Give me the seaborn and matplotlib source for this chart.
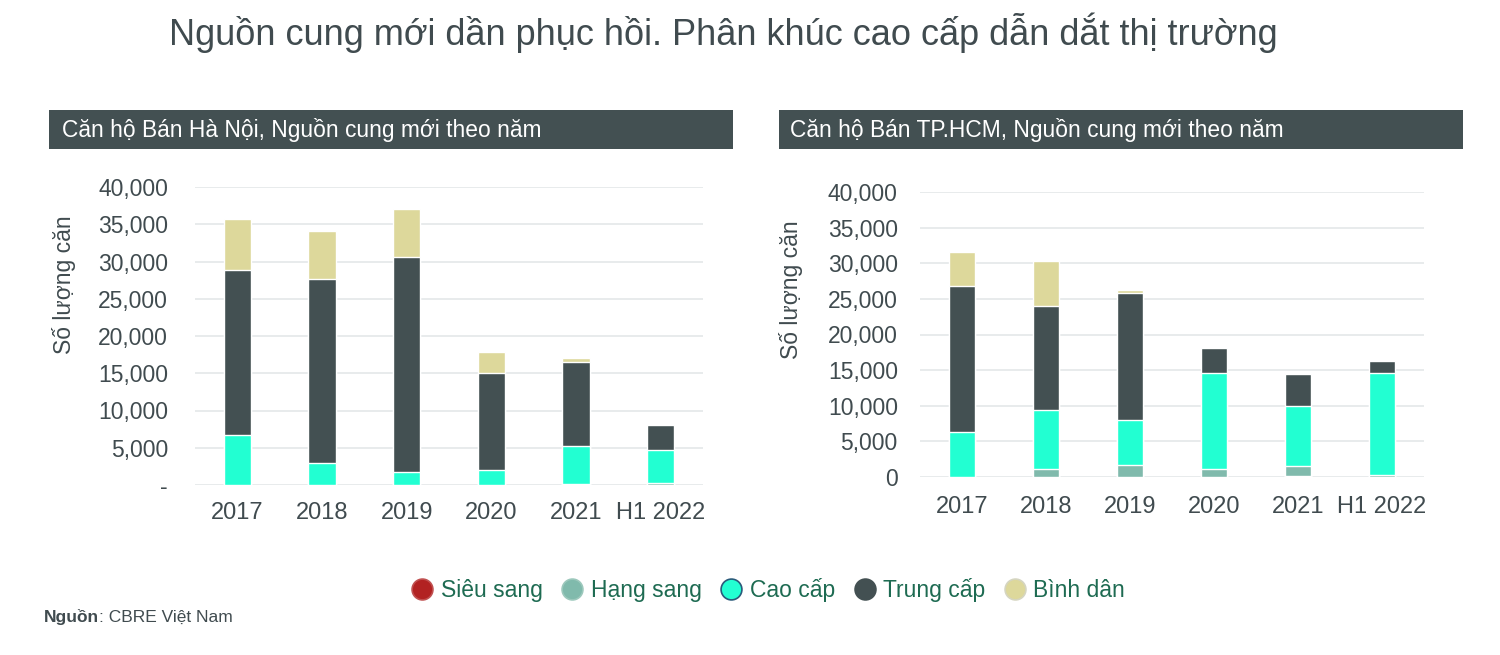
import matplotlib
matplotlib.use("Agg")
import matplotlib.pyplot as plt
from matplotlib.patches import Rectangle
from matplotlib.lines import Line2D
from matplotlib.ticker import FuncFormatter, MultipleLocator
import seaborn as sns
import pandas as pd

# ---------------- data ----------------
categories = ["2017", "2018", "2019", "2020", "2021", "H1 2022"]
segments = ["Siêu sang", "Hạng sang", "Cao cấp", "Trung cấp", "Bình dân"]

hn_sieu_sang = [0, 0, 0, 0, 0, 0]
hn_hang_sang = [0, 0, 0, 0, 100, 300]
hn_cao_cap = [6750, 3000, 1800, 2000, 5200, 4400]
hn_trung_cap = [22150, 24600, 28800, 13000, 11150, 3350]
hn_binh_dan = [6800, 6500, 6400, 2800, 650, 0]

hcm_sieu_sang = [0, 0, 0, 0, 150, 0]
hcm_hang_sang = [0, 1130, 1740, 1080, 1400, 280]
hcm_cao_cap = [6330, 8210, 6330, 13550, 8440, 14350]
hcm_trung_cap = [20470, 14710, 17730, 3470, 4500, 1640]
hcm_binh_dan = [4800, 6290, 500, 0, 0, 0]

title_text = "Nguồn cung mới dần phục hồi. Phân khúc cao cấp dẫn dắt thị trường"
hn_header = "Căn hộ Bán Hà Nội, Nguồn cung mới theo năm"
hcm_header = "Căn hộ Bán TP.HCM, Nguồn cung mới theo năm"
ylabel_text = "Số lượng căn"

# ---------------- style ----------------
colors = {
    "Siêu sang": "#B22222",
    "Hạng sang": "#80BAAC",
    "Cao cấp": "#22FFD2",
    "Trung cấp": "#435052",
    "Bình dân": "#DDD89B",
}
text_col = "#404b4f"
legend_text_col = "#1e6b52"
box_col = "#435052"
grid_col = "#e6e9eb"

sns.set_theme(style="white")
plt.rcParams["font.family"] = ["Liberation Sans", "DejaVu Sans"]

fig = plt.figure(figsize=(15, 6.55), dpi=100)
fig.patch.set_facecolor("white")


def long_frame(series):
    rows = []
    for i, cat in enumerate(categories):
        cum = 0
        for seg, vals in zip(segments, series):
            v = vals[i]
            cum += v
            rows.append({"cat": cat, "seg": seg, "val": v, "top": cum})
    return pd.DataFrame(rows)


def draw_panel(ax, series, zero_label, ytick_pad, xtick_pad, ylab_xy):
    df = long_frame(series)
    for seg in reversed(segments):
        sub = df[(df["seg"] == seg) & (df["val"] > 0)]
        if sub.empty:
            continue
        sns.barplot(data=sub, x="cat", y="top", order=categories,
                    color=colors[seg], saturation=1, width=0.32,
                    edgecolor="white", linewidth=1.0, ax=ax, errorbar=None)
    ax.set_xlim(-0.5, 5.5)
    ax.set_ylim(0, 40000)
    ax.yaxis.set_major_locator(MultipleLocator(5000))
    ax.yaxis.set_major_formatter(FuncFormatter(
        lambda v, p: zero_label if v == 0 else f"{int(v):,}"))
    ax.yaxis.grid(True, color=grid_col, linewidth=1.3)
    ax.xaxis.grid(False)
    ax.set_axisbelow(True)
    for s in ax.spines.values():
        s.set_visible(False)
    ax.tick_params(axis="y", length=0, pad=ytick_pad, labelsize=16.5,
                   labelcolor=text_col)
    ax.tick_params(axis="x", length=0, pad=xtick_pad, labelsize=17,
                   labelcolor=text_col)
    ax.set_xlabel("")
    ax.set_ylabel(ylabel_text, fontsize=16.5, color=text_col)
    ax.yaxis.set_label_coords(*ylab_xy)
    ax.set_facecolor("none")


# left panel (Hà Nội)
ax1 = fig.add_axes([195 / 1500, 1 - 485 / 655, 508 / 1500, 298 / 655])
draw_panel(ax1, [hn_sieu_sang, hn_hang_sang, hn_cao_cap, hn_trung_cap, hn_binh_dan],
           "-", 19.5, 12, (-0.234, 0.673))

# right panel (TP.HCM)
ax2 = fig.add_axes([920 / 1500, 1 - 477 / 655, 504 / 1500, 285 / 655])
draw_panel(ax2, [hcm_sieu_sang, hcm_hang_sang, hcm_cao_cap, hcm_trung_cap, hcm_binh_dan],
           "0", 16, 14, (-0.232, 0.656))

# title
fig.text(723 / 1500, 1 - 33 / 655, title_text, ha="center", va="center",
         fontsize=26, color=text_col)

# header boxes
for x0, x1, txt, tx in [(49, 733, hn_header, 62), (779, 1463, hcm_header, 790)]:
    fig.patches.append(Rectangle((x0 / 1500, 1 - 149 / 655), (x1 - x0) / 1500,
                                 39 / 655, transform=fig.transFigure,
                                 facecolor=box_col, edgecolor="none", zorder=0))
    fig.text(tx / 1500, 1 - 130 / 655, txt, ha="left", va="center",
             fontsize=16.4, color="white")

# legend
handles = []
edge_cols = {"Siêu sang": "#c05050", "Hạng sang": "#9cc8bc", "Cao cấp": "#2a5a7a",
             "Trung cấp": "#435052", "Bình dân": "#d5d5c0"}
for seg in segments:
    handles.append(Line2D([0], [0], marker="o", linestyle="none",
                          markersize=15, markerfacecolor=colors[seg],
                          markeredgecolor=edge_cols[seg], markeredgewidth=1.2,
                          label=seg))
leg = fig.legend(handles=handles, loc="center", ncol=5,
                 bbox_to_anchor=(768 / 1500, 1 - 590 / 655), frameon=False,
                 fontsize=16.5, handletextpad=0.3, columnspacing=0.8,
                 handlelength=1.0)
for t in leg.get_texts():
    t.set_color(legend_text_col)

# source note
t1 = fig.text(44 / 1500, 1 - 617 / 655, "Nguồn", ha="left", va="center",
              fontsize=12.5, fontweight="bold", color=text_col)
ax1.annotate(": CBRE Việt Nam", xy=(1, 0.5), xycoords=t1, ha="left",
             va="center", fontsize=12.5, color=text_col, annotation_clip=False)

fig.savefig("out.png", dpi=100, facecolor="white")
